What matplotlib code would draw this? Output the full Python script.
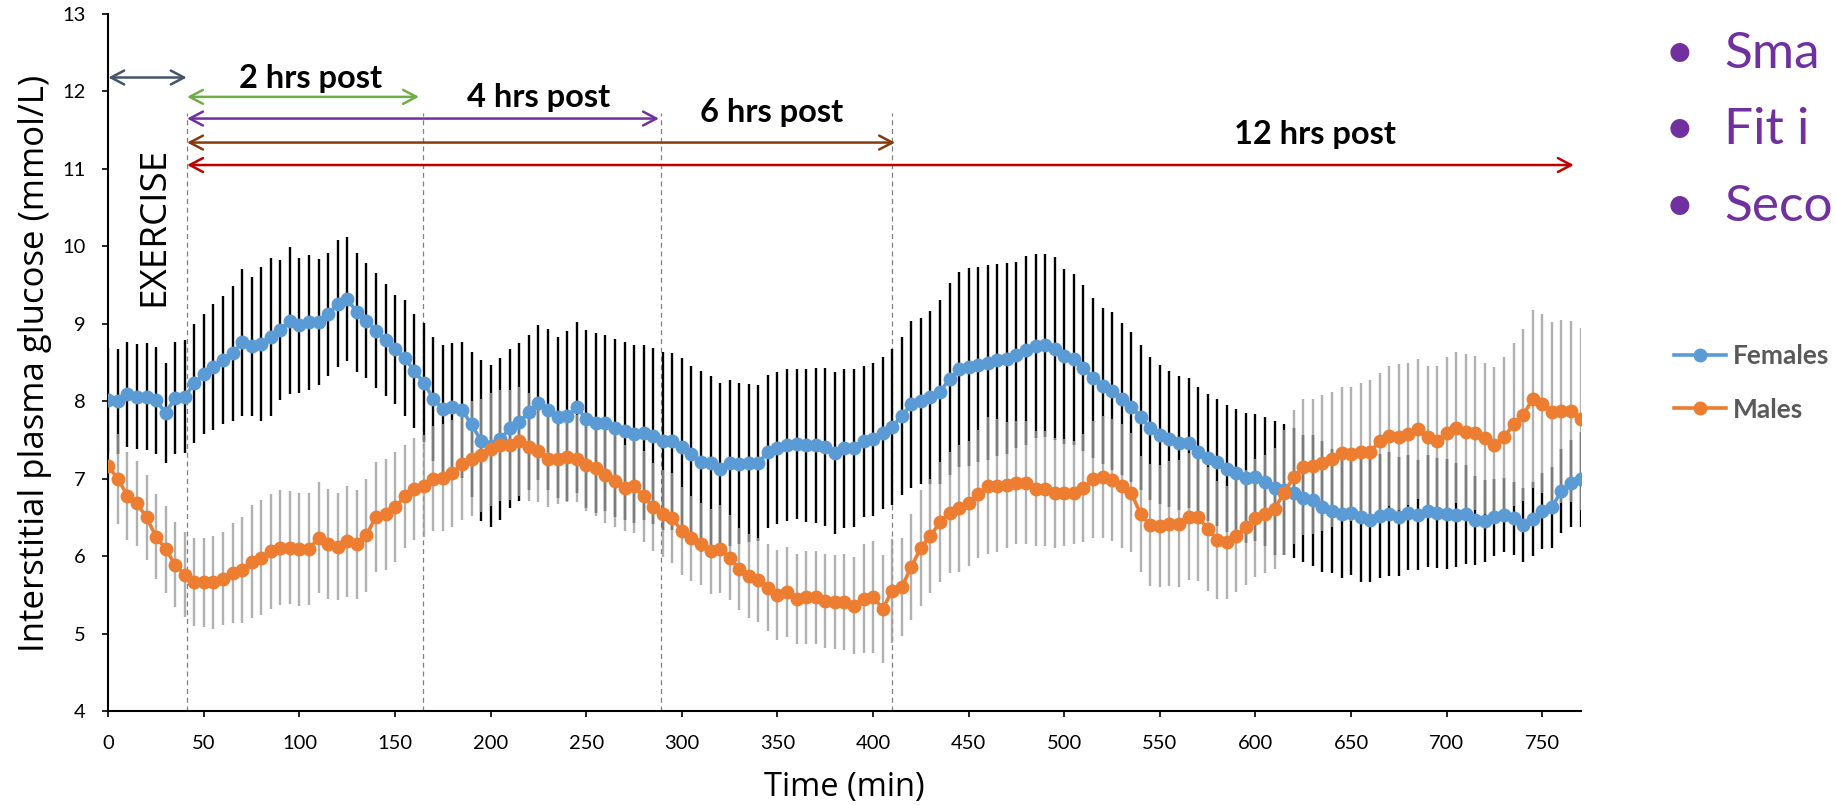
import matplotlib
matplotlib.use('Agg')
import matplotlib.pyplot as plt

# ---------------- data ----------------
time = list(range(0, 775, 5))

females = [8.01, 8.00, 8.09, 8.06, 8.06, 8.01, 7.85, 8.04, 8.06, 8.23,
           8.35, 8.44, 8.53, 8.62, 8.76, 8.71, 8.74, 8.83, 8.92, 9.04,
           8.98, 9.02, 9.02, 9.12, 9.26, 9.32, 9.15, 9.04, 8.91, 8.79,
           8.67, 8.56, 8.39, 8.24, 8.03, 7.90, 7.92, 7.89, 7.70, 7.49,
           7.42, 7.51, 7.65, 7.73, 7.86, 7.98, 7.89, 7.79, 7.81, 7.92,
           7.77, 7.72, 7.72, 7.65, 7.62, 7.58, 7.59, 7.55, 7.49, 7.48,
           7.41, 7.32, 7.22, 7.20, 7.13, 7.20, 7.19, 7.20, 7.20, 7.35,
           7.40, 7.43, 7.45, 7.43, 7.43, 7.41, 7.33, 7.39, 7.39, 7.48,
           7.51, 7.59, 7.67, 7.81, 7.96, 8.00, 8.05, 8.12, 8.29, 8.41,
           8.44, 8.47, 8.50, 8.53, 8.55, 8.60, 8.66, 8.71, 8.72, 8.68,
           8.58, 8.54, 8.43, 8.30, 8.20, 8.13, 8.03, 7.93, 7.79, 7.65,
           7.57, 7.51, 7.46, 7.46, 7.35, 7.27, 7.21, 7.13, 7.07, 7.01,
           7.02, 6.96, 6.88, 6.86, 6.81, 6.75, 6.72, 6.64, 6.58, 6.54,
           6.56, 6.50, 6.46, 6.52, 6.54, 6.51, 6.56, 6.53, 6.58, 6.56,
           6.54, 6.53, 6.54, 6.46, 6.45, 6.50, 6.53, 6.49, 6.40, 6.48,
           6.58, 6.63, 6.84, 6.94, 6.99]

females_sd = [0.68, 0.68, 0.68, 0.68, 0.69, 0.69, 0.65, 0.72, 0.73, 0.77,
              0.77, 0.81, 0.83, 0.87, 0.95, 0.90, 0.99, 1.02, 0.90, 0.95,
              0.87, 0.87, 0.81, 0.80, 0.82, 0.80, 0.77, 0.74, 0.74, 0.72,
              0.70, 0.75, 0.74, 0.77, 0.80, 0.83, 0.83, 0.88, 0.94, 1.04,
              1.05, 1.05, 1.03, 1.02, 1.00, 1.00, 1.04, 1.04, 1.10, 1.10,
              1.15, 1.16, 1.14, 1.15, 1.15, 1.15, 1.13, 1.14, 1.15, 1.14,
              1.15, 1.14, 1.17, 1.12, 1.11, 1.07, 1.04, 1.02, 1.01, 0.99,
              0.98, 0.98, 0.97, 0.99, 1.00, 1.02, 1.05, 1.03, 1.02, 0.98,
              0.99, 0.98, 1.01, 1.02, 1.08, 1.07, 1.12, 1.19, 1.24, 1.26,
              1.28, 1.26, 1.26, 1.24, 1.23, 1.20, 1.22, 1.19, 1.18, 1.18,
              1.13, 1.10, 1.07, 1.03, 1.01, 1.02, 0.98, 0.97, 0.94, 0.92,
              0.90, 0.88, 0.87, 0.84, 0.83, 0.82, 0.82, 0.82, 0.83, 0.84,
              0.82, 0.83, 0.86, 0.84, 0.84, 0.82, 0.85, 0.84, 0.80, 0.82,
              0.81, 0.83, 0.80, 0.80, 0.80, 0.77, 0.74, 0.71, 0.72, 0.71,
              0.71, 0.67, 0.64, 0.58, 0.53, 0.50, 0.48, 0.47, 0.48, 0.48,
              0.49, 0.52, 0.54, 0.56, 0.61]

males = [7.16, 7.00, 6.78, 6.68, 6.50, 6.25, 6.09, 5.89, 5.76, 5.67,
         5.66, 5.66, 5.71, 5.78, 5.82, 5.93, 5.98, 6.06, 6.11, 6.11,
         6.09, 6.09, 6.24, 6.16, 6.12, 6.19, 6.15, 6.27, 6.51, 6.54,
         6.63, 6.77, 6.87, 6.91, 7.00, 7.01, 7.07, 7.19, 7.26, 7.30,
         7.38, 7.43, 7.44, 7.48, 7.41, 7.36, 7.25, 7.25, 7.28, 7.26,
         7.18, 7.14, 7.05, 6.97, 6.88, 6.91, 6.77, 6.63, 6.55, 6.49,
         6.32, 6.23, 6.16, 6.06, 6.09, 5.98, 5.83, 5.74, 5.69, 5.59,
         5.50, 5.54, 5.45, 5.47, 5.47, 5.42, 5.41, 5.41, 5.36, 5.45,
         5.47, 5.32, 5.55, 5.60, 5.86, 6.11, 6.26, 6.44, 6.56, 6.62,
         6.68, 6.80, 6.91, 6.91, 6.92, 6.95, 6.95, 6.87, 6.87, 6.82,
         6.82, 6.82, 6.88, 6.99, 7.02, 6.98, 6.91, 6.82, 6.54, 6.40,
         6.39, 6.42, 6.42, 6.51, 6.51, 6.35, 6.21, 6.18, 6.26, 6.37,
         6.49, 6.54, 6.61, 6.82, 7.02, 7.15, 7.16, 7.20, 7.25, 7.33,
         7.32, 7.35, 7.35, 7.48, 7.55, 7.54, 7.58, 7.64, 7.54, 7.49,
         7.59, 7.66, 7.60, 7.59, 7.52, 7.43, 7.54, 7.70, 7.82, 8.03,
         7.97, 7.86, 7.87, 7.87, 7.77]

males_sd = [0.58, 0.58, 0.57, 0.55, 0.55, 0.55, 0.56, 0.55, 0.55, 0.57,
            0.58, 0.60, 0.60, 0.65, 0.69, 0.73, 0.74, 0.74, 0.74, 0.73,
            0.73, 0.72, 0.72, 0.71, 0.69, 0.72, 0.71, 0.73, 0.71, 0.72,
            0.71, 0.67, 0.66, 0.66, 0.68, 0.69, 0.69, 0.72, 0.74, 0.73,
            0.73, 0.72, 0.71, 0.71, 0.70, 0.66, 0.62, 0.58, 0.58, 0.56,
            0.60, 0.62, 0.62, 0.60, 0.56, 0.61, 0.59, 0.57, 0.56, 0.58,
            0.57, 0.55, 0.53, 0.55, 0.57, 0.55, 0.53, 0.54, 0.54, 0.56,
            0.58, 0.58, 0.58, 0.60, 0.60, 0.61, 0.61, 0.62, 0.63, 0.70,
            0.72, 0.70, 0.67, 0.63, 0.68, 0.75, 0.74, 0.78, 0.78, 0.82,
            0.81, 0.83, 0.88, 0.86, 0.81, 0.80, 0.79, 0.74, 0.74, 0.71,
            0.69, 0.66, 0.70, 0.76, 0.79, 0.79, 0.80, 0.77, 0.75, 0.79,
            0.79, 0.81, 0.82, 0.82, 0.83, 0.80, 0.76, 0.73, 0.72, 0.74,
            0.76, 0.76, 0.78, 0.81, 0.87, 0.88, 0.87, 0.88, 0.87, 0.86,
            0.87, 0.88, 0.92, 0.88, 0.90, 0.94, 0.92, 0.90, 0.91, 0.96,
            0.98, 0.98, 1.01, 0.99, 0.98, 1.01, 1.03, 1.05, 1.11, 1.15,
            1.15, 1.16, 1.18, 1.17, 1.17]

x_ticks = list(range(0, 800, 50))
y_ticks = list(range(4, 14))

# time markers (min) of the exercise / post-exercise periods
period_marks = [41, 164.5, 289, 410]
# arrows: (start, end, level, colour)
period_arrows = [(0, 41, 12.18, '#44546A'),
                 (41.2, 162.5, 11.93, '#70AD47'),
                 (41.2, 288.0, 11.65, '#7030A0'),
                 (41.2, 411.5, 11.34, '#843C0C'),
                 (41.2, 766.5, 11.05, '#C00000')]
period_labels = ['2 hrs post', '4 hrs post', '6 hrs post', '12 hrs post']
period_label_pos = [(106, 12.05), (225, 11.80), (347, 11.60), (631, 11.32)]
# slide bullet points, cut off by the slide edge in the original
bullets = ['Sma', 'Fit i', 'Seco']

# ---------------- figure ----------------
W, H = 1835, 805
fig = plt.figure(figsize=(W / 100, H / 100), dpi=100)
ax = fig.add_axes([108.3 / W, 1 - 711 / H, (1580.5 - 108.3) / W, (711 - 14) / H])

ax.errorbar(time, females, yerr=females_sd, fmt='none', ecolor='black',
            elinewidth=1.7, capsize=0, zorder=1)
ax.errorbar(time, males, yerr=males_sd, fmt='none', ecolor='#9c9c9c',
            elinewidth=1.7, capsize=0, alpha=0.8, zorder=2)
lf, = ax.plot(time, females, '-o', color='#5B9BD5', lw=2.6, ms=9,
              zorder=3, label='Females')
lm, = ax.plot(time, males, '-o', color='#ED7D31', lw=2.6, ms=9,
              zorder=4, label='Males')

ax.set_xlim(0, 770)
ax.set_ylim(4, 13)
ax.set_xticks(x_ticks)
ax.set_yticks(y_ticks)
for s in ['top', 'right']:
    ax.spines[s].set_visible(False)
for s in ['left', 'bottom']:
    ax.spines[s].set_linewidth(1.5)
    ax.spines[s].set_color('black')
ax.tick_params(axis='both', direction='out', length=4.5, width=1.2,
               labelsize=14.5, colors='black')
ax.tick_params(axis='y', pad=12)
ax.tick_params(axis='x', pad=13)
for lab in ax.get_xticklabels() + ax.get_yticklabels():
    lab.set_family('Lato')

# vertical dashed period lines
for xm in period_marks:
    ax.plot([xm, xm], [4, 11.72], color='#808080', lw=0.9,
            dashes=(4, 3), zorder=0.5)

# period arrows
for x1, x2, yv, col in period_arrows:
    ax.annotate('', xy=(x2, yv), xytext=(x1, yv),
                arrowprops=dict(arrowstyle='<->,head_length=0.95,head_width=0.5',
                                color=col, lw=1.8, shrinkA=0, shrinkB=0))

for txt, (xp, yp) in zip(period_labels, period_label_pos):
    ax.text(xp, yp, txt, ha='center', va='baseline', fontsize=23.5,
            fontweight='bold', family='Lato', color='black')

# EXERCISE vertical text
fig.text(163.3 / W, 1 - 226.5 / H, 'EXERCISE', rotation=90,
         rotation_mode='anchor', ha='center', va='baseline',
         fontsize=26.5, family='Open Sans', color='black')

# axis titles
fig.text(44 / W, 1 - 363 / H, 'Interstitial plasma glucose (mmol/L)',
         rotation=90, rotation_mode='anchor', ha='center', va='baseline',
         fontsize=25, family='Open Sans', color='black')
fig.text(844 / W, 1 - 796 / H, 'Time (min)', ha='center', va='baseline',
         fontsize=23.5, family='Open Sans', color='black')

# legend
leg = ax.legend(handles=[lf, lm], loc='upper left',
                bbox_to_anchor=(1674 / W, 1 - 344 / H),
                bbox_transform=fig.transFigure, frameon=False,
                borderpad=0, borderaxespad=0, handlelength=1.97,
                handletextpad=0.25, labelspacing=1.12,
                prop={'family': 'Lato', 'weight': 'bold', 'size': 19})
for t in leg.get_texts():
    t.set_color('#595959')

# bullet text
for i, b in enumerate(bullets):
    yb = 68 + i * 76.5
    fig.text(1679 / W, 1 - yb / H, '\u2022', ha='center', va='baseline',
             fontsize=37, family='Lato', color='#7030A0')
    fig.text(1724 / W, 1 - yb / H, b, ha='left', va='baseline',
             fontsize=37, family='Lato', color='#7030A0')

fig.savefig('out.png', dpi=100)
